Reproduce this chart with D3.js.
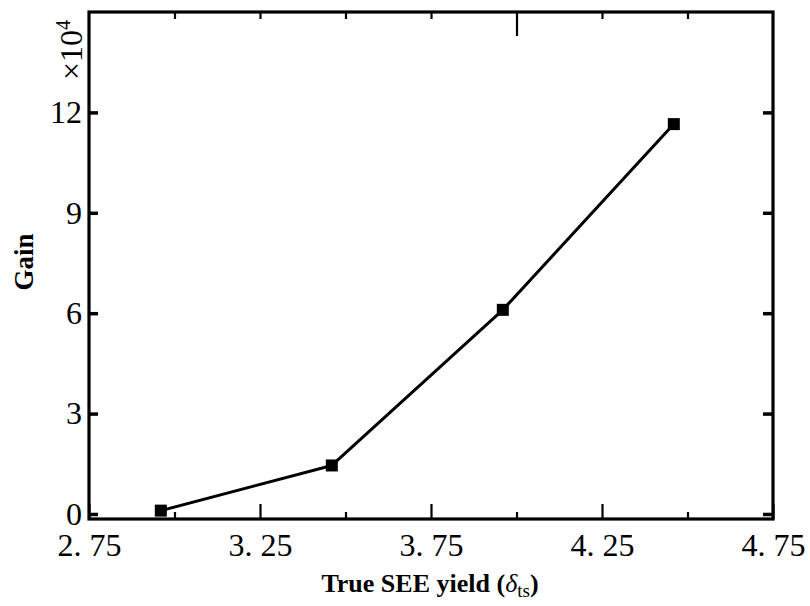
<!DOCTYPE html>
<html>
<head>
<meta charset="utf-8">
<script src="https://cdn.jsdelivr.net/npm/d3@7"></script>
<style>
  html, body { margin: 0; padding: 0; background: #fff; }
  svg { display: block; }
  text { font-family: "Liberation Serif", "Times New Roman", serif; fill: #000; }
</style>
</head>
<body>
<svg id="chart" width="810" height="606"></svg>
<script>
// True secondary-electron-emission yield vs. gain (in units of 10^4)
const seeYield = [2.96, 3.46, 3.96, 4.46];
const gain = [0.1, 1.45, 6.1, 11.65];

const xMajorTicks = [2.75, 3.25, 3.75, 4.25, 4.75];
const xMajorLabels = ["2. 75", "3. 25", "3. 75", "4. 25", "4. 75"];
const xMinorTicks = [3.0, 3.5, 4.0, 4.5];
const topShortTicks = [3.0, 3.25, 3.5, 3.75, 4.25, 4.5];
const topLongTicks = [4.0];
const yTicks = [0, 3, 6, 9, 12];
const yTickLabels = ["0", "3", "6", "9", "12"];

const svg = d3.select("#chart");
const plotLeft = 89, plotRight = 773, plotTop = 12, plotBottom = 519;

const x = d3.scaleLinear().domain([2.75, 4.75]).range([plotLeft, plotRight]);
const y = d3.scaleLinear().domain([-0.15, 15]).range([plotBottom, plotTop]);

// bottom axis: labelled major ticks + short minor ticks
const bottomAxis = svg.append("g")
  .attr("transform", `translate(0,${plotBottom})`)
  .call(d3.axisBottom(x).tickValues(xMajorTicks).tickSize(-15).tickPadding(14)
    .tickFormat((d, i) => xMajorLabels[i]));
bottomAxis.select(".domain").remove();
bottomAxis.selectAll(".tick line").attr("stroke-width", 2.2);
bottomAxis.selectAll(".tick text").attr("font-size", 32).attr("font-family", null);

const bottomMinor = svg.append("g")
  .attr("transform", `translate(0,${plotBottom})`)
  .call(d3.axisBottom(x).tickValues(xMinorTicks).tickSize(-7).tickFormat(""));
bottomMinor.select(".domain").remove();
bottomMinor.selectAll(".tick line").attr("stroke-width", 2.2);

// top axis ticks (no labels)
const topShort = svg.append("g")
  .attr("transform", `translate(0,${plotTop})`)
  .call(d3.axisTop(x).tickValues(topShortTicks).tickSize(-7).tickFormat(""));
topShort.select(".domain").remove();
topShort.selectAll(".tick line").attr("stroke-width", 2.2);

const topLong = svg.append("g")
  .attr("transform", `translate(0,${plotTop})`)
  .call(d3.axisTop(x).tickValues(topLongTicks).tickSize(-24).tickFormat(""));
topLong.select(".domain").remove();
topLong.selectAll(".tick line").attr("stroke-width", 2.2);

// left axis
const leftAxis = svg.append("g")
  .attr("transform", `translate(${plotLeft},0)`)
  .call(d3.axisLeft(y).tickValues(yTicks).tickSize(-9).tickPadding(7)
    .tickFormat((d, i) => yTickLabels[i]));
leftAxis.select(".domain").remove();
leftAxis.selectAll(".tick line").attr("stroke-width", 3.5);
leftAxis.selectAll(".tick text").attr("font-size", 32).attr("font-family", null);

// right axis ticks
const rightAxis = svg.append("g")
  .attr("transform", `translate(${plotRight},0)`)
  .call(d3.axisRight(y).tickValues(yTicks).tickSize(-10).tickFormat(""));
rightAxis.select(".domain").remove();
rightAxis.selectAll(".tick line").attr("stroke-width", 3.5);

// frame
svg.append("rect")
  .attr("x", plotLeft).attr("y", plotTop)
  .attr("width", plotRight - plotLeft).attr("height", plotBottom - plotTop)
  .attr("fill", "none").attr("stroke", "#000").attr("stroke-width", 3.2);

// data line and square markers
const pts = seeYield.map((v, i) => [v, gain[i]]);
svg.append("path")
  .datum(pts)
  .attr("fill", "none").attr("stroke", "#000").attr("stroke-width", 3)
  .attr("stroke-linejoin", "round")
  .attr("d", d3.line().x(d => x(d[0])).y(d => y(d[1])));

const m = 12;
svg.selectAll("rect.marker")
  .data(pts)
  .join("rect")
  .attr("class", "marker")
  .attr("x", d => x(d[0]) - m / 2)
  .attr("y", d => y(d[1]) - m / 2)
  .attr("width", m).attr("height", m)
  .attr("fill", "#000");

// exponent marker
const expo = svg.append("text")
  .attr("transform", "translate(82,80) rotate(-90)")
  .attr("font-size", 32);
expo.append("tspan").text("×10");
expo.append("tspan").attr("font-size", 20).attr("dy", -12).text("4");

// axis titles
svg.append("text")
  .attr("transform", "translate(33,262) rotate(-90)")
  .attr("text-anchor", "middle")
  .attr("font-size", 27)
  .attr("font-weight", "bold")
  .text("Gain");

const xt = svg.append("text")
  .attr("x", 430).attr("y", 592)
  .attr("text-anchor", "middle")
  .attr("font-size", 26)
  .attr("font-weight", "bold");
xt.append("tspan").text("True SEE yield (");
xt.append("tspan").attr("font-style", "italic").attr("font-weight", "normal").text("δ");
xt.append("tspan").attr("font-weight", "normal").attr("font-size", 19).attr("dy", 5).text("ts");
xt.append("tspan").attr("dy", -5).text(")");
</script>
</body>
</html>
